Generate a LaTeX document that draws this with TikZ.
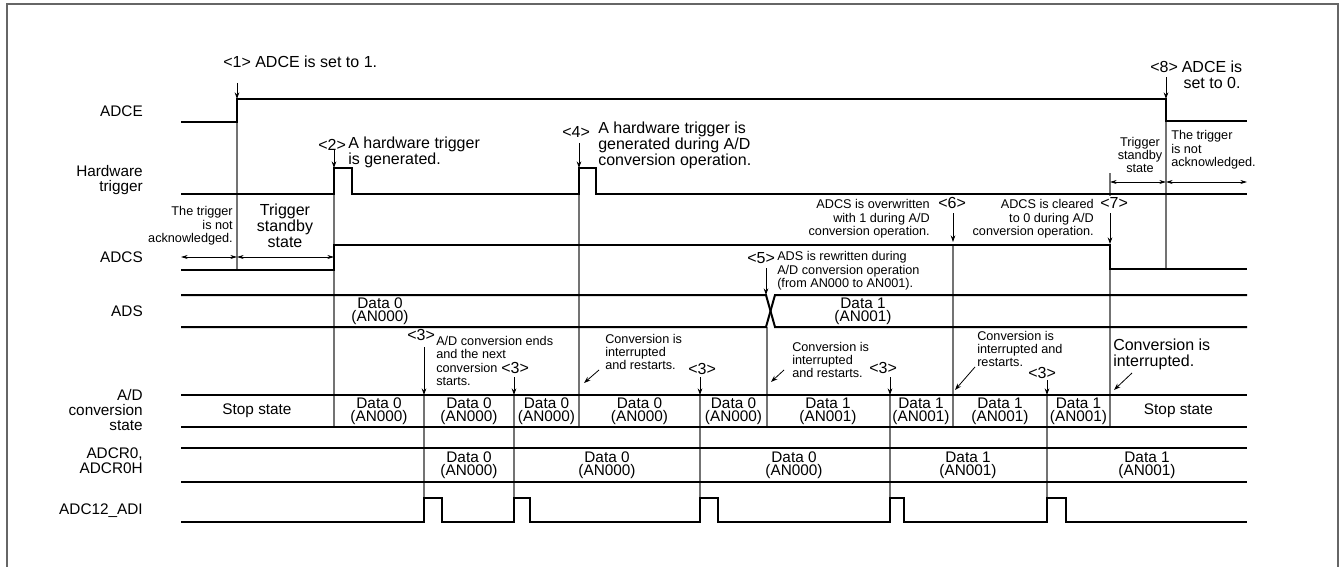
\documentclass[tikz,border=0pt]{standalone}
\usepackage{fontspec}
\setmainfont{Liberation Sans}
\usetikzlibrary{arrows.meta}
\begin{document}
\begin{tikzpicture}[x=0.75pt,y=-0.75pt,
 sig/.style={line width=1.5pt, line join=miter},
 ev/.style={line width=0.9pt, draw=black!55},
 ann/.style={-{Stealth[length=5pt,width=3.5pt]}, line width=0.6pt},
 dimarrow/.style={{Stealth[length=5pt,width=3pt]}-{Stealth[length=5pt,width=3pt]}, line width=0.6pt},
 lbl/.style={anchor=east, align=right, font=\fontsize{11.5}{11.25}\selectfont, inner sep=0pt},
 big/.style={font=\fontsize{12}{12}\selectfont, inner sep=0pt},
 sml/.style={font=\fontsize{9.5}{10}\selectfont, inner sep=0pt},
 cell/.style={align=center, font=\fontsize{11.5}{10}\selectfont, inner sep=0pt},
]
\useasboundingbox (0,0) rectangle (1340,567);
\draw[draw=black!60, line width=1.2pt] (7,590) -- (7,4) -- (1338,4) -- (1338,590);

% signal labels
\node[lbl] (lADCE) at (143,111) {ADCE};
\node[lbl] (lHW) at (143,180) {Hardware\\trigger};
\node[lbl] (lADCS) at (143,257) {ADCS};
\node[lbl] (lADS) at (143,311) {ADS};
\node[lbl] (lADC) at (143,410) {A/D\\conversion\\state};
\node[lbl] (lADCR) at (143,461) {ADCR0,\\ADCR0H};
\node[lbl] (lADI) at (143,511) {ADC12\_ADI};

% event lines
\draw[ev] (237,99) -- (237,270);
\draw[ev] (334,168) -- (334,427);
\draw[ev] (424,395) -- (424,498);
\draw[ev] (514,395) -- (514,498);
\draw[ev] (579,168) -- (579,427);
\draw[ev] (700,395) -- (700,498);
\draw[ev] (767,327) -- (767,427);
\draw[ev] (890,395) -- (890,498);
\draw[ev] (953,245) -- (953,427);
\draw[ev] (1047,395) -- (1047,498);
\draw[ev] (1110,173) -- (1110,196);
\draw[ev] (1110,245) -- (1110,427);
\draw[ev] (1166,99) -- (1166,270);

% signals
\draw[sig] (181,122) -- (237,122) -- (237,99) -- (1166,99) -- (1166,121) -- (1247,121);
\draw[sig] (181,194) -- (334,194) -- (334,168) -- (352,168) -- (352,194) -- (579,194) -- (579,168) -- (596,168) -- (596,194) -- (1247,194);
\draw[sig] (181,270) -- (334,270) -- (334,245) -- (1110,245) -- (1110,269) -- (1247,269);
\draw[sig] (181,295) -- (766,295) -- (775,327) -- (1247,327);
\draw[sig] (181,327) -- (766,327) -- (775,295) -- (1247,295);
\draw[sig] (181,395) -- (1247,395);
\draw[sig] (181,427) -- (1247,427);
\draw[sig] (181,448) -- (1247,448);
\draw[sig] (181,482) -- (1247,482);
\draw[sig] (181,522) -- (424,522) -- (424,498) -- (442,498) -- (442,522) -- (514,522) -- (514,498) -- (530,498) -- (530,522)
  -- (700,522) -- (700,498) -- (718,498) -- (718,522) -- (890,522) -- (890,498) -- (904,498) -- (904,522)
  -- (1047,522) -- (1047,498) -- (1066,498) -- (1066,522) -- (1247,522);

% dimension arrows
\draw[dimarrow] (181,257) -- (237,257);
\draw[dimarrow] (237,257) -- (334,257);
\draw[dimarrow] (1110,182) -- (1166,182);
\draw[dimarrow] (1166,182) -- (1247,182);
\node[sml, anchor=east, align=right] (tna1) at (233,226) {The trigger\\is not\\acknowledged.};
\node[big, align=center] (tsb1) at (285,226) {Trigger\\standby\\state};
\node[sml, align=center] (tsb2) at (1140,155) {Trigger\\standby\\state};
\node[sml, anchor=west, align=left] (tna2) at (1171,150) {The trigger\\is not\\acknowledged.};

% top annotations
\node[big, anchor=west] (a1) at (223,62) {<1> ADCE is set to 1.};
\draw[ann] (237,83) -- (237,99);
\node[big, anchor=west] (n2) at (318,145) {<2>};
\node[big, anchor=west, align=left] (a2) at (348,152) {A hardware trigger\\is generated.};
\draw[ann] (334,150) -- (334,168);
\node[big, anchor=west] (n4) at (562,132) {<4>};
\node[big, anchor=west, align=left] (a4) at (598,145) {A hardware trigger is\\generated during A/D\\conversion operation.};
\draw[ann] (579,143) -- (579,168);
\node[big, anchor=west] (n8) at (1150,67) {<8>};
\node[big, align=center] (a8) at (1212,75) {ADCE is\\set to 0.};
\draw[ann] (1166,77) -- (1166,99);

% ADCS / ADS annotations
\node[big, anchor=west] (n5) at (747,258) {<5>};
\node[sml, anchor=west, align=left] (a5) at (777,271) {ADS is rewritten during\\A/D conversion operation\\(from AN000 to AN001).};
\draw[ann] (766,268) -- (766,295);
\node[sml, anchor=east, align=right] (a6) at (930,219) {ADCS is overwritten\\with 1 during A/D\\conversion operation.};
\node[big, anchor=west] (n6) at (938,203) {<6>};
\draw[ann] (953,213) -- (953,242);
\node[sml, anchor=east, align=right] (a7) at (1094,219) {ADCS is cleared\\to 0 during A/D\\conversion operation.};
\node[big, anchor=west] (n7) at (1100,203) {<7>};
\draw[ann] (1110,213) -- (1110,244);

% data texts
\node[cell] (ds0) at (380,311) {Data 0\\(AN000)};
\node[cell] (ds1) at (863,311) {Data 1\\(AN001)};

% conversion state annotations
\node[big, anchor=west] (c3a) at (407,335) {<3>};
\draw[ann] (424,347) -- (424,395);
\node[sml, anchor=west, align=left] (cta) at (436,361) {A/D conversion ends\\and the next\\conversion\\starts.};
\node[big, anchor=west] (c3b) at (501,368) {<3>};
\draw[ann] (514,377) -- (514,395);
\node[sml, anchor=west, align=left] (ctb) at (605,352) {Conversion is\\interrupted\\and restarts.};
\draw[ann] (599,370) -- (584,383);
\node[big, anchor=west] (c3c) at (688,369) {<3>};
\draw[ann] (700,377) -- (700,395);
\node[sml, anchor=west, align=left] (ctc) at (792,360) {Conversion is\\interrupted\\and restarts.};
\draw[ann] (784,370) -- (771,382);
\node[big, anchor=west] (c3d) at (869,368) {<3>};
\draw[ann] (890,377) -- (890,395);
\node[sml, anchor=west, align=left] (ctd) at (977,349) {Conversion is\\interrupted and\\restarts.};
\draw[ann] (975,367) -- (955,390);
\node[big, anchor=west] (c3e) at (1028,373) {<3>};
\draw[ann] (1047,380) -- (1047,395);
\node[big, anchor=west, align=left] (cte) at (1113,354) {Conversion is\\interrupted.};
\draw[ann] (1132,373) -- (1114,390);

% conversion state cells
\node[cell] (s0) at (257,411) {Stop state};
\node[cell] (s1) at (379,411) {Data 0\\(AN000)};
\node[cell] (s2) at (469,411) {Data 0\\(AN000)};
\node[cell] (s3) at (546.5,411) {Data 0\\(AN000)};
\node[cell] (s4) at (639.5,411) {Data 0\\(AN000)};
\node[cell] (s5) at (733.5,411) {Data 0\\(AN000)};
\node[cell] (s6) at (828,411) {Data 1\\(AN001)};
\node[cell] (s7) at (921,411) {Data 1\\(AN001)};
\node[cell] (s8) at (1000,411) {Data 1\\(AN001)};
\node[cell] (s9) at (1078.5,411) {Data 1\\(AN001)};
\node[cell] (s10) at (1178.5,411) {Stop state};

% ADCR0 cells
\node[cell] (r1) at (469,465) {Data 0\\(AN000)};
\node[cell] (r2) at (607,465) {Data 0\\(AN000)};
\node[cell] (r3) at (794,465) {Data 0\\(AN000)};
\node[cell] (r4) at (968,465) {Data 1\\(AN001)};
\node[cell] (r5) at (1147,465) {Data 1\\(AN001)};
\end{tikzpicture}
\end{document}
